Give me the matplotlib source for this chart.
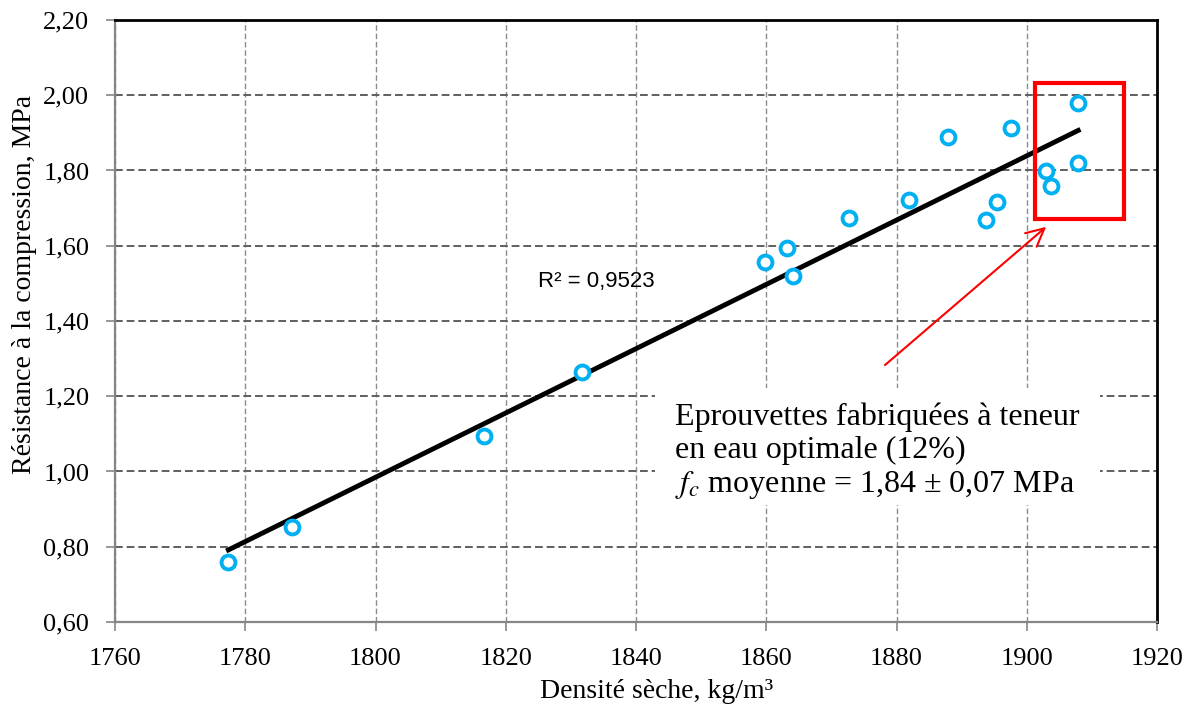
import numpy as np
from matplotlib import pyplot as plt
from matplotlib.patches import Rectangle
from matplotlib.ticker import FuncFormatter

plt.rcParams['font.family'] = ['Liberation Serif', 'DejaVu Serif']
plt.rcParams['mathtext.fontset'] = 'stix'

# Dry density (kg/m3) and compressive strength (MPa).
densite = [1777.4, 1787.2, 1816.7, 1831.7, 1859.8, 1863.2, 1864.1, 1872.7,
           1881.9, 1887.9, 1893.7, 1895.4, 1897.6, 1903.0, 1903.7, 1907.9, 1907.9]
resistance = [0.759, 0.852, 1.094, 1.264, 1.557, 1.594, 1.520, 1.674,
              1.722, 1.889, 1.668, 1.716, 1.913, 1.799, 1.759, 1.979, 1.820]

x_ticks = list(range(1760, 1921, 20))
y_ticks = [0.6, 0.8, 1.0, 1.2, 1.4, 1.6, 1.8, 2.0, 2.2]

r2_label = 'R² = 0,9523'
note_lines = ['Eprouvettes fabriquées à teneur',
              'en eau optimale (12%)',
              r'$f_c$ moyenne = 1,84 ± 0,07 MPa']

fig = plt.figure(figsize=(11.96, 7.16), dpi=100)
ax = fig.add_axes([0.0962, 0.1313, 0.8712, 0.8408])

ax.set_xlim(1760, 1920)
ax.set_ylim(0.6, 2.2)
ax.set_xticks(x_ticks)
ax.set_yticks(y_ticks)
ax.yaxis.set_major_formatter(FuncFormatter(lambda v, p: f'{v:.2f}'.replace('.', ',')))

# Grid: darker dashed horizontal, light dashed vertical
ax.grid(axis='y', color='#5f5f5f', linestyle=(0, (4, 2)), linewidth=1.4)
ax.grid(axis='x', color='#8c8c8c', linestyle=(0, (4, 2)), linewidth=1.0)
ax.set_axisbelow(True)

for side in ['left', 'bottom']:
    ax.spines[side].set_color('#868686')
    ax.spines[side].set_linewidth(1.6)
for side in ['top', 'right']:
    ax.spines[side].set_color('black')
    ax.spines[side].set_linewidth(2)

ax.tick_params(direction='out', length=6.5, width=1.2, color='#868686',
               labelsize=19)
ax.tick_params(axis='x', pad=12)
ax.tick_params(axis='y', pad=12)

# Linear trendline over the data range
coef = np.polyfit(densite, resistance, 1)
xs = np.array([min(densite), max(densite)])
ax.plot(xs, np.polyval(coef, xs), color='black', linewidth=3.5, zorder=3)

ax.plot(densite, resistance, linestyle='none', marker='o', markersize=10,
        markerfacecolor='white', markeredgecolor='#00B0F0',
        markeredgewidth=2.8, zorder=4)

ax.set_xlabel('Densité sèche, kg/m³', fontsize=20)
ax.set_ylabel('Résistance à la compression, MPa', fontsize=20)
ax.xaxis.set_label_coords(0.52, -0.095)
ax.yaxis.set_label_coords(-0.0749, 0.561)

ax.text(1833.9, 1.506, r2_label, fontsize=16, family=['Liberation Sans', 'DejaVu Sans'],
        ha='center', va='center', zorder=5)

# Highlight box around specimens at optimal water content
ax.add_patch(Rectangle((1901.3, 1.672), 13.6, 0.36, fill=False,
                       edgecolor='#ff0000', linewidth=3, zorder=5))
ax.annotate('', xy=(1903.3, 1.655), xytext=(1877.9, 1.278),
            arrowprops=dict(arrowstyle='->', color='#ff0000', lw=1.5,
                            mutation_scale=32), zorder=5)

# White text box hiding the grid behind the note
ax.add_patch(Rectangle((1842.9, 0.911), 68.3, 0.311, facecolor='white',
                       edgecolor='none', zorder=2))
ax.text(1846.0, 1.184, '\n'.join(note_lines), fontsize=23, ha='left', va='top',
        linespacing=1.17, zorder=6)

fig.savefig('out.png', dpi=100)
